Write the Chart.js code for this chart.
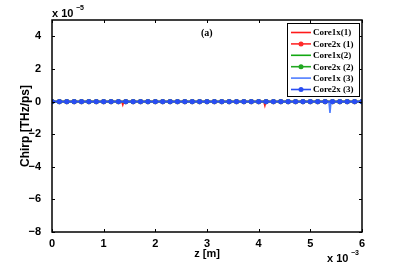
<!DOCTYPE html>
<html>
<head>
<meta charset="utf-8">
<script src="https://cdn.jsdelivr.net/npm/chart.js@4.4.1/dist/chart.umd.min.js"></script>
<style>
  html, body { margin: 0; padding: 0; background: #fff; }
  #wrap { width: 399px; height: 265px; }
</style>
</head>
<body>
<div id="wrap"><canvas id="chirpChart" width="399" height="265"></canvas></div>
<script>
// z in units of 1e-3 m, chirp in units of 1e-5 THz/ps
const xTicks = [0, 1, 2, 3, 4, 5, 6];
const yTicks = [-8, -6, -4, -2, 0, 2, 4];

// sample points where the marker series are plotted
const zMarkers = [0, 0.143, 0.286, 0.429, 0.571, 0.714, 0.857, 1, 1.143, 1.286, 1.429, 1.571, 1.714, 1.857,
  2, 2.143, 2.286, 2.429, 2.571, 2.714, 2.857, 3, 3.143, 3.286, 3.429, 3.571, 3.714, 3.857,
  4, 4.143, 4.286, 4.429, 4.571, 4.714, 4.857, 5, 5.143, 5.286, 5.429, 5.571, 5.714, 5.857, 6];
const core2x1 = [0,0,0,0,0,0,0,0,0,0,0,0,0,0,0,0,0,0,0,0,0,0,0,0,0,0,0,0,0,0,0,0,0,0,0,0,0,0,0,0,0,0,0];
const core2x2 = [0,0,0,0,0,0,0,0,0,0,0,0,0,0,0,0,0,0,0,0,0,0,0,0,0,0,0,0,0,0,0,0,0,0,0,0,0,0,0,0,0,0,0];
const core2x3 = [0,0,0,0,0,0,0,0,0,0,0,0,0,0,0,0,0,0,0,0,0,0,0,0,0,0,0,0,0,0,0,0,0,0,0,0,0,0,0,0,0,0,0];

// line-only series (finer sampling, small spikes)
const zCore1x1 = [0, 1.35, 1.37, 1.39, 4.10, 4.12, 4.14, 6];
const core1x1 = [0, 0, -0.2, 0, 0, -0.25, 0, 0];
const zCore1x2 = [0, 6];
const core1x2 = [0, 0];
const zCore1x3 = [0, 5.36, 5.38, 5.40, 6];
const core1x3 = [0, 0, -0.7, 0, 0];

const seriesNames = ['Core1x(1)', 'Core2x (1)', 'Core1x(2)', 'Core2x (2)', 'Core1x (3)', 'Core2x (3)'];
const seriesColors = ['#ff1a1a', '#ff2a2a', '#12a812', '#22a822', '#4f7dff', '#2a4df2'];

function pts(xs, ys) {
  return xs.map((x, i) => ({ x: x, y: ys[i] }));
}

const lineSet = (i, xs, ys) => ({
  label: seriesNames[i], data: pts(xs, ys), borderColor: seriesColors[i], backgroundColor: seriesColors[i],
  borderWidth: 1.6, pointRadius: 0, tension: 0, order: 6 - i, hasMarker: false
});
const markerSet = (i, ys) => ({
  label: seriesNames[i], data: pts(zMarkers, ys), borderColor: seriesColors[i], backgroundColor: seriesColors[i],
  borderWidth: 1.8, pointRadius: 2.6, pointBorderWidth: 0, tension: 0, order: 6 - i, hasMarker: true
});

const FONT = '"Liberation Sans", Arial, sans-serif';
const SERIF = '"Liberation Serif", "Times New Roman", serif';

// box, inward ticks, exponent labels, panel tag and legend
const matlabFrame = {
  id: 'matlabFrame',
  afterDraw(c) {
    const ctx = c.ctx;
    const a = c.chartArea;
    const xs = c.scales.x, ys = c.scales.y;
    ctx.save();
    ctx.strokeStyle = '#000';
    ctx.lineWidth = 1.5;
    ctx.strokeRect(a.left, a.top, a.right - a.left, a.bottom - a.top);
    ctx.lineWidth = 1;
    ctx.beginPath();
    xTicks.forEach(v => {
      const px = Math.round(xs.getPixelForValue(v)) + 0.5;
      ctx.moveTo(px, a.bottom); ctx.lineTo(px, a.bottom - 3);
      ctx.moveTo(px, a.top); ctx.lineTo(px, a.top + 3);
    });
    yTicks.forEach(v => {
      const py = Math.round(ys.getPixelForValue(v)) + 0.5;
      ctx.moveTo(a.left, py); ctx.lineTo(a.left + 3, py);
      ctx.moveTo(a.right, py); ctx.lineTo(a.right - 3, py);
    });
    ctx.stroke();

    ctx.fillStyle = '#000';
    ctx.textBaseline = 'alphabetic';
    ctx.textAlign = 'left';
    ctx.font = 'bold 11px ' + FONT;
    ctx.fillText('x 10', 52, 17);
    ctx.fillText('x 10', 327, 262);
    ctx.font = 'bold 7px ' + FONT;
    ctx.fillText('\u22125', 76, 10);
    ctx.fillText('\u22123', 351, 255);

    ctx.font = 'bold 10px ' + SERIF;
    ctx.fillText('(a)', 201, 36);

    // legend
    const lx = 287, ly = 23, lw = 72, lh = 73;
    ctx.fillStyle = '#fff';
    ctx.fillRect(lx, ly, lw, lh);
    ctx.strokeStyle = '#000';
    ctx.lineWidth = 1;
    ctx.strokeRect(lx + 0.5, ly + 0.5, lw, lh);
    c.data.datasets.forEach((d, i) => {
      const cy = 32.5 + i * 11.4;
      ctx.strokeStyle = d.borderColor;
      ctx.lineWidth = 1.6;
      ctx.beginPath();
      ctx.moveTo(291, cy); ctx.lineTo(311, cy);
      ctx.stroke();
      if (d.hasMarker) {
        ctx.fillStyle = d.backgroundColor;
        ctx.beginPath();
        ctx.arc(301, cy, 2.5, 0, Math.PI * 2);
        ctx.fill();
      }
      ctx.fillStyle = '#000';
      ctx.font = 'bold 9px ' + SERIF;
      ctx.textBaseline = 'middle';
      ctx.fillText(d.label, 313, cy + 0.5);
    });
    ctx.restore();
  }
};

new Chart(document.getElementById('chirpChart'), {
  type: 'line',
  data: {
    datasets: [
      lineSet(0, zCore1x1, core1x1),
      markerSet(1, core2x1),
      lineSet(2, zCore1x2, core1x2),
      markerSet(3, core2x2),
      lineSet(4, zCore1x3, core1x3),
      markerSet(5, core2x3)
    ]
  },
  options: {
    responsive: false,
    animation: false,
    layout: { padding: { top: 20, right: 37, left: 0, bottom: 0 } },
    plugins: { legend: { display: false }, tooltip: { enabled: false } },
    scales: {
      x: {
        type: 'linear', min: 0, max: 6,
        afterBuildTicks: s => { s.ticks = xTicks.map(v => ({ value: v })); },
        afterFit: s => { s.height = 33; },
        grid: { display: false },
        border: { display: false },
        ticks: { color: '#000', padding: -3, maxRotation: 0, font: { family: FONT, size: 11, weight: 'bold' } },
        title: { display: true, text: 'z [m]', color: '#000', padding: { top: 0, bottom: 4 },
          font: { family: FONT, size: 11, weight: 'bold' } }
      },
      y: {
        min: -8, max: 5,
        afterBuildTicks: s => { s.ticks = yTicks.map(v => ({ value: v })); },
        afterFit: s => { s.width = 52; },
        grid: { display: false },
        border: { display: false },
        ticks: { color: '#000', padding: 3, font: { family: FONT, size: 11, weight: 'bold' },
          callback: v => (v < 0 ? '\u2212' + Math.abs(v) : String(v)) },
        title: { display: true, text: 'Chirp [THz/ps]', color: '#000', padding: { top: 18, bottom: 0 },
          font: { family: FONT, size: 12, weight: 'bold' } }
      }
    }
  },
  plugins: [matlabFrame]
});
</script>
</body>
</html>
